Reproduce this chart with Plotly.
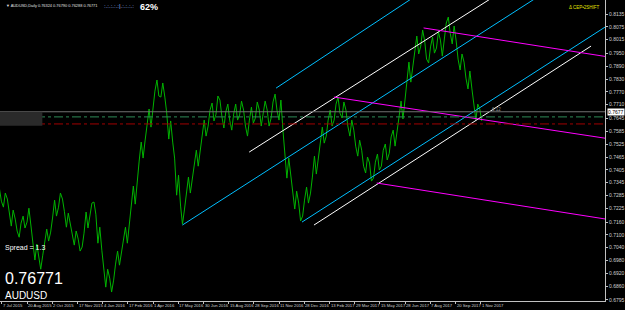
import plotly.graph_objects as go

# ---------------- data ----------------
date_labels = ["7 Jul 2015", "20 Aug 2015", "2 Oct 2015", "17 Nov 2015", "4 Jan 2016",
               "17 Feb 2016", "1 Apr 2016", "17 May 2016", "30 Jun 2016", "15 Aug 2016",
               "28 Sep 2016", "11 Nov 2016", "28 Dec 2016", "13 Feb 2017", "29 Mar 2017",
               "15 May 2017", "28 Jun 2017", "7 Aug 2017", "20 Sep 2017", "1 Nov 2017"]
bars_per_label = 32

price_labels = ["0.8135", "0.8075", "0.8015", "0.7950", "0.7890", "0.7830", "0.7770", "0.7710",
                "0.7645", "0.7585", "0.7525", "0.7465", "0.7405", "0.7345", "0.7285", "0.7225",
                "0.7160", "0.7100", "0.7040", "0.6980", "0.6920", "0.6860", "0.6795"]

highs = [0.7315, 0.7296, 0.7268, 0.7216, 0.7174, 0.7155, 0.7188, 0.7225, 0.7136, 0.7057,
         0.7005, 0.7071, 0.7127, 0.7179, 0.7263, 0.7296, 0.7268, 0.7202, 0.7150, 0.7118,
         0.7080, 0.7108, 0.7207, 0.7249, 0.7254, 0.7136, 0.7028, 0.6939, 0.6897, 0.6963,
         0.7024, 0.7085, 0.7136, 0.7230, 0.7329, 0.7446, 0.7535, 0.7619, 0.7690, 0.7774,
         0.7826, 0.7812, 0.7746, 0.7634, 0.7535, 0.7380, 0.7235, 0.7305, 0.7371, 0.7441,
         0.7497, 0.7587, 0.7638, 0.7685, 0.7718, 0.7751, 0.7732, 0.7676, 0.7713, 0.7666,
         0.7713, 0.7727, 0.7685, 0.7638, 0.7699, 0.7723, 0.7685, 0.7727, 0.7685, 0.7723,
         0.7760, 0.7732, 0.7591, 0.7460, 0.7376, 0.7305, 0.7249, 0.7263, 0.7324, 0.7371,
         0.7469, 0.7544, 0.7605, 0.7638, 0.7685, 0.7713, 0.7746, 0.7723, 0.7685, 0.7638,
         0.7591, 0.7544, 0.7497, 0.7465, 0.7437, 0.7441, 0.7479, 0.7497, 0.7526, 0.7559,
         0.7591, 0.7652, 0.7727, 0.7826, 0.7910, 0.7971, 0.8032, 0.8060, 0.8009, 0.7981,
         0.8027, 0.8051, 0.8013, 0.8093, 0.8121, 0.8079, 0.8009, 0.7948, 0.7910, 0.7868,
         0.7784, 0.7713, 0.7690]
lows = [0.7258, 0.7230, 0.7211, 0.7141, 0.7118, 0.7089, 0.7132, 0.7160, 0.7061, 0.6982,
        0.6939, 0.7005, 0.7071, 0.7113, 0.7188, 0.7230, 0.7211, 0.7136, 0.7094, 0.7052,
        0.7024, 0.7043, 0.7132, 0.7183, 0.7197, 0.7061, 0.6953, 0.6855, 0.6832, 0.6888,
        0.6958, 0.7019, 0.7061, 0.7155, 0.7244, 0.7361, 0.7460, 0.7544, 0.7605, 0.7690,
        0.7751, 0.7746, 0.7671, 0.7549, 0.7460, 0.7286, 0.7150, 0.7221, 0.7296, 0.7366,
        0.7422, 0.7502, 0.7563, 0.7610, 0.7634, 0.7666, 0.7657, 0.7601, 0.7638, 0.7591,
        0.7638, 0.7662, 0.7610, 0.7563, 0.7624, 0.7648, 0.7610, 0.7662, 0.7610, 0.7648,
        0.7685, 0.7638, 0.7498, 0.7366, 0.7291, 0.7221, 0.7165, 0.7188, 0.7249, 0.7296,
        0.7385, 0.7469, 0.7530, 0.7563, 0.7610, 0.7638, 0.7671, 0.7648, 0.7610, 0.7563,
        0.7516, 0.7469, 0.7422, 0.7390, 0.7352, 0.7366, 0.7404, 0.7422, 0.7451, 0.7483,
        0.7516, 0.7577, 0.7643, 0.7732, 0.7816, 0.7887, 0.7948, 0.7985, 0.7924, 0.7906,
        0.7952, 0.7976, 0.7938, 0.8009, 0.8046, 0.7995, 0.7924, 0.7873, 0.7835, 0.7784,
        0.7699, 0.7638, 0.7634]
last_price = 0.76771
sample_step = 5

# drawn objects: (bar, price) anchor pairs
cyan_lines = [[(348.1, 0.7788), (541.8, 0.8260)],
              [(229.1, 0.7146), (706.3, 0.8277)],
              [(381.0, 0.7160), (782.3, 0.8113)]]
white_lines = [[(313.9, 0.7488), (624.0, 0.8215)],
               [(396.2, 0.7146), (748.1, 0.7985)]]
magenta_lines = [[(535.4, 0.8070), (782.3, 0.7927)],
                 [(421.5, 0.7746), (782.3, 0.7544)],
                 [(475.9, 0.7343), (782.3, 0.7165)]]
green_level = 0.7653
red_level = 0.7620

# ---------------- figure ----------------
X_MIN, X_MAX = -2.53, 765.8
Y_MIN, Y_MAX = 0.6790, 0.8201
NARROW = "Liberation Sans Narrow, Liberation Sans"

xs, ys = [], []
for i, (h, l) in enumerate(zip(highs, lows)):
    b = i * sample_step - 2
    if i % 2 == 0:
        xs += [b - 1.2, b + 1.2]; ys += [h, l]
    else:
        xs += [b - 1.2, b + 1.2]; ys += [l, h]

fig = go.Figure()
fig.add_trace(go.Scatter(x=xs, y=ys, mode="lines", line=dict(color="#00b400", width=1),
                         hoverinfo="skip"))

def add_lines(groups, color):
    for (x0, y0), (x1, y1) in groups:
        fig.add_trace(go.Scatter(x=[x0, x1], y=[y0, y1], mode="lines",
                                 line=dict(color=color, width=1), hoverinfo="skip"))

add_lines(cyan_lines, "#00bfff")
add_lines(white_lines, "#ffffff")
add_lines(magenta_lines, "#ff00ff")

# horizontal levels
fig.add_shape(type="line", xref="x", yref="y", x0=X_MIN, x1=X_MAX, y0=last_price, y1=last_price,
              line=dict(color="#707070", width=1))
fig.add_shape(type="line", xref="x", yref="y", x0=X_MIN, x1=X_MAX, y0=green_level, y1=green_level,
              line=dict(color="#2e8b57", width=1, dash="dashdot"))
fig.add_shape(type="line", xref="x", yref="y", x0=X_MIN, x1=X_MAX, y0=red_level, y1=red_level,
              line=dict(color="#a00000", width=1, dash="dashdot"))
fig.add_shape(type="rect", xref="paper", yref="y", x0=0, x1=0.07, y0=0.7612, y1=0.7677,
              fillcolor="#2a2a2a", line=dict(width=0), layer="above")

price_vals = [float(p) for p in price_labels]
tick_bars = [i * bars_per_label for i in range(len(date_labels))]

annotations = []
for b, lab in zip(tick_bars, date_labels):
    annotations.append(dict(x=b, y=0, xref="x", yref="paper", text=lab, showarrow=False,
                            xanchor="left", yanchor="top", yshift=0, xshift=-1,
                            font=dict(family=NARROW, size=4.2, color="#d0d0d0")))

annotations += [
    dict(x=0.006, y=1, xref="paper", yref="paper", xanchor="left", yanchor="top", yshift=-1,
         text="▼ AUDUSD,Daily 0.76324 0.76790 0.76288 0.76771", showarrow=False,
         font=dict(family=NARROW, size=3.9, color="#e0e0e0")),
    dict(x=0.168, y=1, xref="paper", yref="paper", xanchor="left", yanchor="top", yshift=-1,
         text=":.:.:.:.:|.:.:.:.:", showarrow=False,
         font=dict(family="Liberation Sans", size=6, color="#a0c0ff")),
    dict(x=0.228, y=1, xref="paper", yref="paper", xanchor="left", yanchor="top", yshift=0,
         text="<b>62%</b>", showarrow=False,
         font=dict(family="Liberation Sans", size=9, color="#ffffff")),
    dict(x=0.995, y=1, xref="paper", yref="paper", xanchor="right", yanchor="top", yshift=-3,
         text="Δ CEP•2SHIFT", showarrow=False,
         font=dict(family=NARROW, size=4.5, color="#e0e000")),
    dict(x=0.005, y=0.8, xref="paper", yref="paper", xanchor="left", yanchor="middle",
         text="Spread = 1.3", showarrow=False, yshift=-(301 * 0.8 - 301 + 248),
         font=dict(family="Liberation Sans", size=7, color="#ffffff")),
    dict(x=0.005, y=0, xref="paper", yref="paper", xanchor="left", yanchor="bottom",
         text="0.76771", showarrow=False, yshift=12,
         font=dict(family="Liberation Sans", size=16, color="#ffffff")),
    dict(x=0.005, y=0, xref="paper", yref="paper", xanchor="left", yanchor="bottom",
         text="AUDUSD", showarrow=False, yshift=-2,
         font=dict(family="Liberation Sans", size=10, color="#ffffff")),
    dict(x=1, y=last_price, xref="paper", yref="y", xanchor="left", yanchor="middle",
         text="0.7677", showarrow=False, bgcolor="#ffffff", borderpad=0, xshift=2,
         font=dict(family=NARROW, size=5, color="#000000")),
    dict(x=490 / 0.79, y=last_price, xref="x", yref="y", xanchor="left", yanchor="bottom",
         text="6:12", showarrow=False, yshift=-2,
         font=dict(family=NARROW, size=4.5, color="#909090")),
]

fig.update_layout(
    width=625, height=310,
    margin=dict(l=0, r=18, t=0, b=9),
    paper_bgcolor="#000000", plot_bgcolor="#000000",
    showlegend=False,
    annotations=annotations,
    xaxis=dict(range=[X_MIN, X_MAX], showgrid=False, zeroline=False, showticklabels=False,
               tickvals=tick_bars, ticks="outside", ticklen=2, tickcolor="#c0c0c0",
               showline=True, linecolor="#c0c0c0", linewidth=1),
    yaxis=dict(range=[Y_MIN, Y_MAX], side="right", showgrid=False, zeroline=False,
               tickvals=price_vals, ticktext=price_labels, ticks="outside", ticklen=2,
               tickcolor="#c0c0c0", showline=True, linecolor="#c0c0c0", linewidth=1,
               tickfont=dict(family=NARROW, size=5, color="#d0d0d0")),
)

fig.write_html("out.html")
